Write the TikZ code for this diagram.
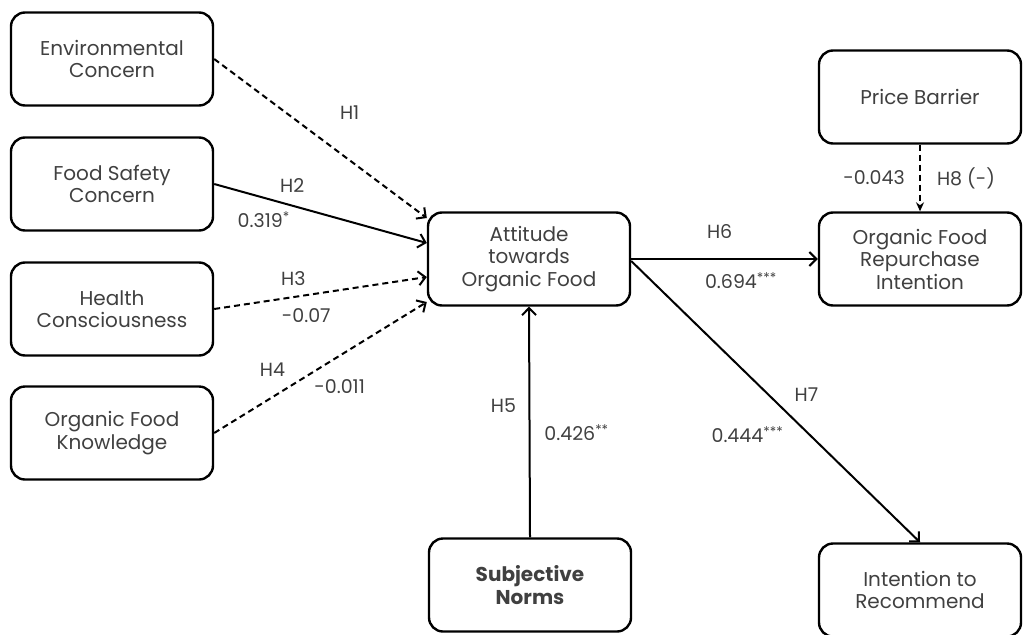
\documentclass[tikz,border=0pt]{standalone}
\usepackage{fontspec}
\setmainfont{Poppins}
\usetikzlibrary{arrows.meta, positioning}
\tikzset{
    box/.style={draw, line width=2.4pt, rounded corners=14pt, minimum width=202pt, minimum height=93pt, align=center, text=black!75, font=\fontsize{20}{22.5}\selectfont}, % the construct boxes
    lbl/.style={text=black!75, font=\fontsize{19}{20}\selectfont}, % hypothesis and path labels
    link/.style={line width=2pt, -{Straight Barb[length=7pt, width=14pt, line width=2pt]}}, % supported path
    weak/.style={link, dash pattern=on 6pt off 4pt}, % not supported path
}

\begin{document}
\begin{tikzpicture}[x=1pt, y=-1pt]
    \useasboundingbox (0,0) rectangle (1024,634);
    \node[box] (ec) at (112,59) {Environmental\\Concern};
    \node[box] (fsc) at (112,184) {Food Safety\\Concern};
    \node[box] (hc) at (112,309) {Health\\Consciousness};
    \node[box] (ofk) at (112,433) {Organic Food\\Knowledge};
    \node[box] (att) at (529,259) {Attitude\\towards\\Organic Food};
    \node[box] (pb) at (920,97) {Price Barrier};
    \node[box] (ofri) at (920,259) {Organic Food\\Repurchase\\Intention};
    \node[box, font=\fontsize{20}{22.5}\selectfont\bfseries] (sn) at (530,585) {Subjective\\Norms};
    \node[box] (itr) at (920,590) {Intention to\\Recommend};
    \draw
    (ec.east) edge[weak] node[lbl, pos=0.637, yshift=48pt]{H1} ([yshift=41pt]att.west)
    (fsc.east) edge[link] node[lbl, pos=0.367, yshift=20pt]{H2}
                          node[lbl, pos=0.233, yshift=-22pt]{0.319\textsuperscript{*}} ([yshift=16pt]att.west)
    (hc.east) edge[weak] node[lbl, pos=0.372, yshift=19pt]{H3}
                         node[lbl, pos=0.433, yshift=-20pt]{-0.07} ([yshift=-18pt]att.west)
    (ofk.east) edge[weak] node[lbl, pos=0.274, yshift=27pt]{H4}
                          node[lbl, pos=0.59, yshift=-31pt]{-0.011} ([yshift=-43pt]att.west)
    (sn.north) edge[link] node[lbl, pos=0.573, xshift=-26pt]{H5}
                          node[lbl, pos=0.453, xshift=47pt]{0.426\textsuperscript{**}} (att.south)
    (att.east) edge[link] node[lbl, pos=0.474, yshift=27pt]{H6}
                          node[lbl, pos=0.588, yshift=-22pt]{0.694\textsuperscript{***}} (ofri.west)
    ([yshift=-2pt]att.east) edge[link] node[lbl, pos=0.475, xshift=38pt]{H7}
                          node[lbl, pos=0.617, xshift=-62pt]{0.444\textsuperscript{***}} (itr.north)
    (pb.south) edge[line width=2pt, dash pattern=on 6pt off 4pt, -{Stealth[length=9pt, width=8pt]}]
                          node[lbl, xshift=-46pt]{-0.043}
                          node[lbl, xshift=46pt]{H8 (-)} (ofri.north);
\end{tikzpicture}
\end{document}
